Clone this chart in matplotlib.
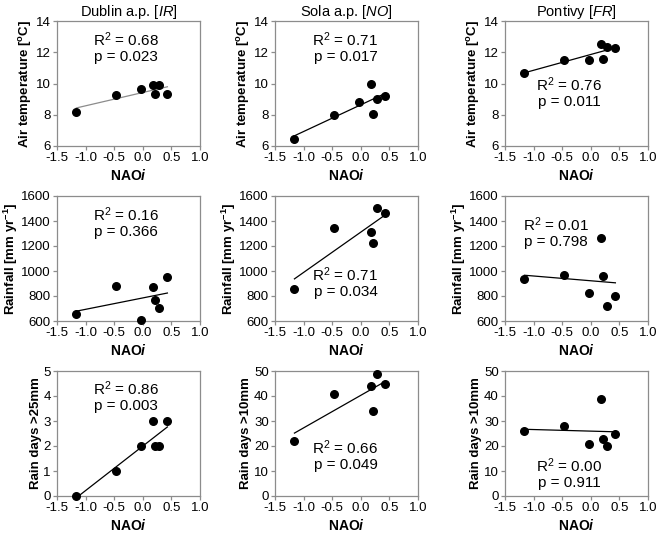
import matplotlib.pyplot as plt
import numpy as np

plt.rcParams['font.family'] = ['Liberation Sans', 'DejaVu Sans']
plt.rcParams['mathtext.fontset'] = 'custom'
plt.rcParams['mathtext.rm'] = 'Liberation Sans'
plt.rcParams['mathtext.it'] = 'Liberation Sans:italic'
plt.rcParams['mathtext.bf'] = 'Liberation Sans:bold'
plt.rcParams['mathtext.bfit'] = 'Liberation Sans:italic:bold'

# NAO index (same years for every station)
nao = [-1.16, -0.46, -0.04, 0.18, 0.21, 0.29, 0.43]

stations = ['Dublin a.p.', 'Sola a.p.', 'Pontivy']
codes = ['[IR]', '[NO]', '[FR]']

# air temperature [C]
temp_dublin = [8.2, 9.28, 9.62, 9.9, 9.32, 9.88, 9.3]
temp_sola = [6.47, 8.0, 8.82, 10.0, 8.06, 8.99, 9.17]
temp_pontivy = [10.68, 11.5, 11.52, 12.55, 11.6, 12.35, 12.25]

# rainfall [mm/yr]
rain_dublin = [655, 880, 612, 870, 770, 705, 950]
rain_sola = [857, 1345, np.nan, 1312, 1222, 1503, 1463]
rain_pontivy = [935, 968, 822, 1268, 962, 717, 802]

# rain days
days_dublin = [0, 1, 2, 3, 2, 2, 3]          # >25mm
days_sola = [22, 41, np.nan, 44, 34, 49, 45]  # >10mm
days_pontivy = [26, 28, 21, 39, 23, 20, 25]   # >10mm

stats = [
    [('0.68', '0.023'), ('0.71', '0.017'), ('0.76', '0.011')],
    [('0.16', '0.366'), ('0.71', '0.034'), ('0.01', '0.798')],
    [('0.86', '0.003'), ('0.66', '0.049'), ('0.00', '0.911')],
]

data = [
    [temp_dublin, temp_sola, temp_pontivy],
    [rain_dublin, rain_sola, rain_pontivy],
    [days_dublin, days_sola, days_pontivy],
]

ylabels = [
    ['Air temperature [$^{\\mathbf{o}}$C]'] * 3,
    ['Rainfall [mm yr$^{\\mathbf{-1}}$]'] * 3,
    ['Rain days >25mm', 'Rain days >10mm', 'Rain days >10mm'],
]
ylims = [(6, 14, 2), (600, 1600, 200), None]
ylims_days = [(0, 5, 1), (0, 50, 10), (0, 50, 10)]

# where the R2/p text sits, in axes fraction (x, y of R2 line)
text_pos = [
    [(0.25, 0.85), (0.26, 0.85), (0.22, 0.49)],
    [(0.25, 0.85), (0.26, 0.37), (0.125, 0.77)],
    [(0.25, 0.86), (0.26, 0.39), (0.22, 0.24)],
]

lefts = [57 / 660, 275 / 660, 505 / 660]
bottoms = [1 - 146 / 537, 1 - 321 / 537, 1 - 496 / 537]
w = 143 / 660
h = 125 / 537

grey = '#8c8c8c'

fig = plt.figure(figsize=(6.6, 5.37), dpi=100)

for r in range(3):
    for c in range(3):
        ax = fig.add_axes([lefts[c], bottoms[r], w, h])
        x = np.array(nao)
        y = np.array(data[r][c], dtype=float)
        ok = ~np.isnan(y)

        ax.scatter(x[ok], y[ok], s=30, color='black', zorder=3, clip_on=False)
        k, b = np.polyfit(x[ok], y[ok], 1)
        xx = np.array([x[ok].min(), x[ok].max()])
        lc = grey if (r == 0 and c == 0) else 'black'
        ax.plot(xx, k * xx + b, color=lc, lw=0.9, zorder=2)

        ax.set_xlim(-1.5, 1.0)
        ax.set_xticks(np.arange(-1.5, 1.01, 0.5))
        ax.set_xticklabels(['-1.5', '-1.0', '-0.5', '0.0', '0.5', '1.0'])
        if r < 2:
            lo, hi, st = ylims[r]
        else:
            lo, hi, st = ylims_days[c]
        ax.set_ylim(lo, hi)
        ax.set_yticks(np.arange(lo, hi + st / 2, st))

        for s in ax.spines.values():
            s.set_color(grey)
            s.set_linewidth(0.9)
        ax.tick_params(direction='out', length=3, width=0.9, color=grey,
                       labelsize=9.5, pad=1.5)

        ax.set_xlabel('NAO$\\mathbfit{i}$', fontsize=10, fontweight='bold',
                      labelpad=3)
        ax.set_ylabel(ylabels[r][c], fontsize=9.5, fontweight='bold',
                      labelpad=1)

        if r == 0:
            ax.set_title(stations[c] + ' $\\mathit{' + codes[c] + '}$',
                         fontsize=10.5, pad=2)

        tx, ty = text_pos[r][c]
        r2, p = stats[r][c]
        ax.text(tx, ty, 'R$^2$ = ' + r2, transform=ax.transAxes,
                fontsize=11, va='center', ha='left')
        ax.text(tx + 0.01, ty - 0.14, 'p = ' + p, transform=ax.transAxes,
                fontsize=11, va='center', ha='left')

fig.savefig('out.png', dpi=100)
